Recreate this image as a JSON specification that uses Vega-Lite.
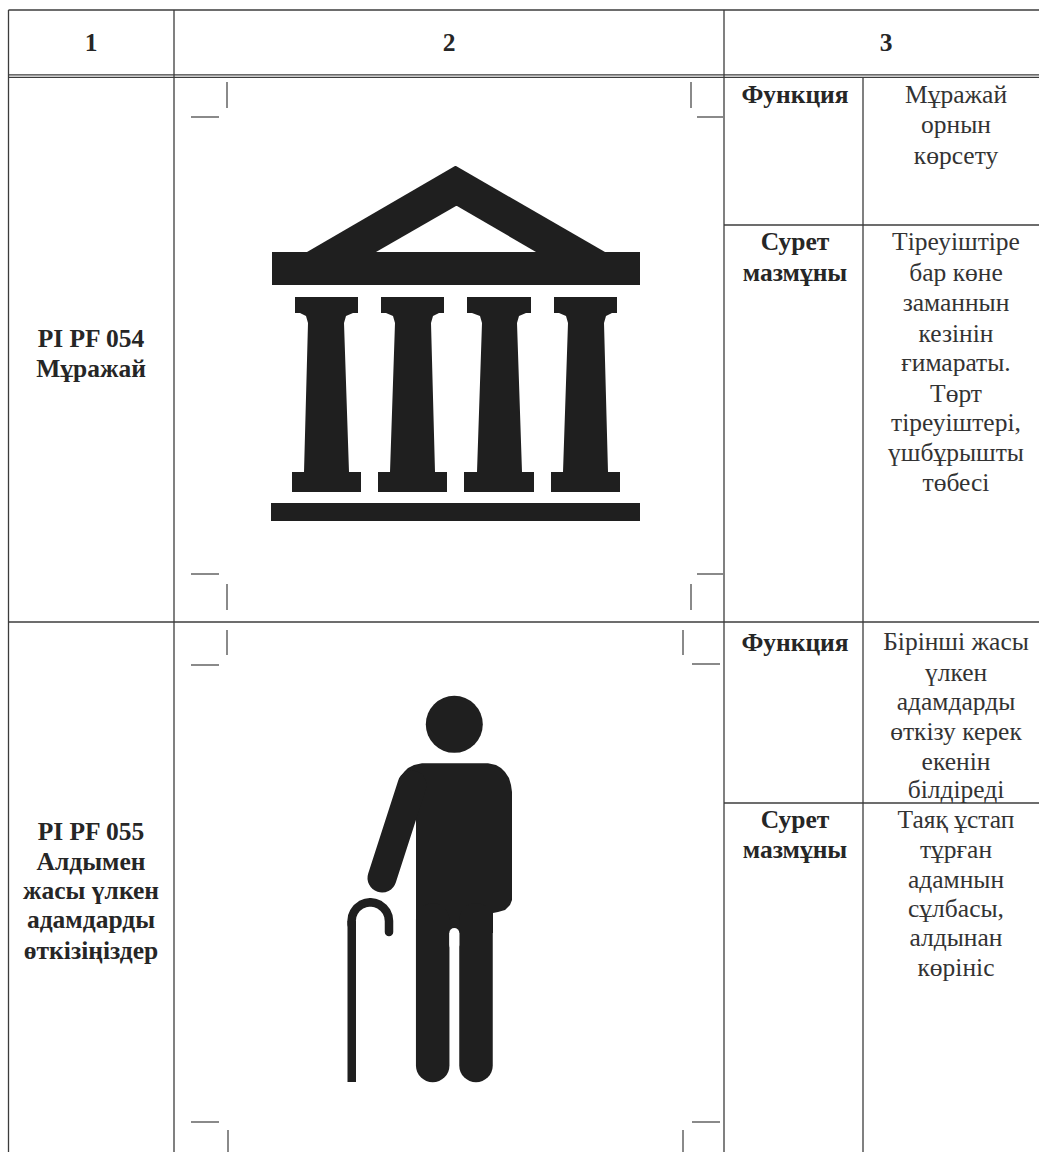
{
"$schema":"https://vega.github.io/schema/vega-lite/v6.json",
"width":1039,"height":1152,"padding":0,"autosize":{"type":"none"},
"background":"#ffffff",
"config":{"view":{"stroke":null}},
"resolve":{"scale":{"color":"independent","strokeWidth":"independent"}},
"encoding":{
 "x":{"field":"x","type":"quantitative","scale":{"domain":[0,1039],"nice":false,"zero":false},"axis":null},
 "y":{"field":"y","type":"quantitative","scale":{"domain":[1152,0],"nice":false,"zero":false},"axis":null}
},
"layer":[
{"data":{"values":[
{"part":"table","x":8.5,"x2":1039,"y":10,"y2":10},
{"part":"table","x":8.5,"x2":1039,"y":74.8,"y2":74.8},
{"part":"table","x":8.5,"x2":1039,"y":77.4,"y2":77.4},
{"part":"table","x":8.5,"x2":1039,"y":622,"y2":622},
{"part":"table","x":724,"x2":1039,"y":225,"y2":225},
{"part":"table","x":724,"x2":1039,"y":803,"y2":803},
{"part":"table","x":8.5,"x2":8.5,"y":10,"y2":1152},
{"part":"table","x":174,"x2":174,"y":10,"y2":1152},
{"part":"table","x":724,"x2":724,"y":10,"y2":1152},
{"part":"table","x":863,"x2":863,"y":77,"y2":1152},
{"part":"crop","x":227,"x2":227,"y":82,"y2":108},
{"part":"crop","x":191,"x2":219,"y":117,"y2":117},
{"part":"crop","x":691,"x2":691,"y":82,"y2":108},
{"part":"crop","x":697,"x2":723,"y":117,"y2":117},
{"part":"crop","x":191,"x2":219,"y":574,"y2":574},
{"part":"crop","x":227,"x2":227,"y":584,"y2":610},
{"part":"crop","x":691,"x2":691,"y":584,"y2":610},
{"part":"crop","x":697,"x2":723,"y":574,"y2":574},
{"part":"crop","x":227,"x2":227,"y":630,"y2":655},
{"part":"crop","x":191,"x2":219,"y":665,"y2":665},
{"part":"crop","x":683,"x2":683,"y":630,"y2":655},
{"part":"crop","x":692,"x2":720,"y":664,"y2":664},
{"part":"crop","x":191,"x2":219,"y":1122,"y2":1122},
{"part":"crop","x":228,"x2":228,"y":1130,"y2":1152},
{"part":"crop","x":683,"x2":683,"y":1130,"y2":1152},
{"part":"crop","x":692,"x2":720,"y":1122,"y2":1122}
]},
"mark":{"type":"rule"},
"encoding":{"x2":{"field":"x2"},"y2":{"field":"y2"},
 "color":{"field":"part","type":"nominal","scale":{"domain":["table","crop"],"range":["#3c3c3c","#2a2a2a"]},"legend":null},
 "strokeWidth":{"field":"part","type":"nominal","scale":{"type":"ordinal","domain":["table","crop"],"range":[1.3,1.1]},"legend":null}}
},
{"data":{"values":[
{"shape":"a_roof","tone":"ink","y":166,"x":455,"x2":456},
{"shape":"a_roof","tone":"ink","y":252,"x":307,"x2":605},
{"shape":"b_beam","tone":"ink","y":252,"x":272,"x2":640},
{"shape":"b_beam","tone":"ink","y":285,"x":272,"x2":640},
{"shape":"c_floor","tone":"ink","y":503,"x":271,"x2":640},
{"shape":"c_floor","tone":"ink","y":521,"x":271,"x2":640},
{"shape":"d_col1","tone":"ink","y":297,"x":295,"x2":358},
{"shape":"d_col1","tone":"ink","y":313,"x":295,"x2":358},
{"shape":"d_col1","tone":"ink","y":313.01,"x":300,"x2":353},
{"shape":"d_col1","tone":"ink","y":316,"x":306,"x2":346},
{"shape":"d_col1","tone":"ink","y":323,"x":308,"x2":344},
{"shape":"d_col1","tone":"ink","y":472,"x":304,"x2":349},
{"shape":"d_col1","tone":"ink","y":472.01,"x":292,"x2":361},
{"shape":"d_col1","tone":"ink","y":492,"x":292,"x2":361},
{"shape":"e_col2","tone":"ink","y":297,"x":381,"x2":444},
{"shape":"e_col2","tone":"ink","y":313,"x":381,"x2":444},
{"shape":"e_col2","tone":"ink","y":313.01,"x":386,"x2":439},
{"shape":"e_col2","tone":"ink","y":316,"x":393,"x2":433},
{"shape":"e_col2","tone":"ink","y":323,"x":395,"x2":431},
{"shape":"e_col2","tone":"ink","y":472,"x":390,"x2":435},
{"shape":"e_col2","tone":"ink","y":472.01,"x":378,"x2":447},
{"shape":"e_col2","tone":"ink","y":492,"x":378,"x2":447},
{"shape":"f_col3","tone":"ink","y":297,"x":467,"x2":531},
{"shape":"f_col3","tone":"ink","y":313,"x":467,"x2":531},
{"shape":"f_col3","tone":"ink","y":313.01,"x":472,"x2":526},
{"shape":"f_col3","tone":"ink","y":316,"x":480,"x2":519},
{"shape":"f_col3","tone":"ink","y":323,"x":482,"x2":517},
{"shape":"f_col3","tone":"ink","y":472,"x":477,"x2":522},
{"shape":"f_col3","tone":"ink","y":472.01,"x":464,"x2":534},
{"shape":"f_col3","tone":"ink","y":492,"x":464,"x2":534},
{"shape":"g_col4","tone":"ink","y":297,"x":554,"x2":617},
{"shape":"g_col4","tone":"ink","y":313,"x":554,"x2":617},
{"shape":"g_col4","tone":"ink","y":313.01,"x":559,"x2":612},
{"shape":"g_col4","tone":"ink","y":316,"x":566,"x2":606},
{"shape":"g_col4","tone":"ink","y":323,"x":568,"x2":604},
{"shape":"g_col4","tone":"ink","y":472,"x":563,"x2":608},
{"shape":"g_col4","tone":"ink","y":472.01,"x":551,"x2":620},
{"shape":"g_col4","tone":"ink","y":492,"x":551,"x2":620},
{"shape":"h_torso","tone":"ink","y":763.3,"x":422,"x2":488},
{"shape":"h_torso","tone":"ink","y":765,"x":414,"x2":496},
{"shape":"h_torso","tone":"ink","y":768,"x":408,"x2":501},
{"shape":"h_torso","tone":"ink","y":772,"x":404,"x2":505},
{"shape":"h_torso","tone":"ink","y":778,"x":400,"x2":509},
{"shape":"h_torso","tone":"ink","y":785,"x":399,"x2":511},
{"shape":"h_torso","tone":"ink","y":792,"x":405,"x2":512},
{"shape":"h_torso","tone":"ink","y":800,"x":416,"x2":512},
{"shape":"h_torso","tone":"ink","y":900,"x":416,"x2":512},
{"shape":"h_torso","tone":"ink","y":905,"x":416,"x2":510},
{"shape":"h_torso","tone":"ink","y":910,"x":416,"x2":505},
{"shape":"h_torso","tone":"ink","y":912,"x":416,"x2":498},
{"shape":"h_torso","tone":"ink","y":913,"x":416,"x2":493},
{"shape":"h_torso","tone":"ink","y":933,"x":416,"x2":493},
{"shape":"i_stem","tone":"ink","y":921,"x":347.5,"x2":356},
{"shape":"i_stem","tone":"ink","y":1082,"x":347.5,"x2":356},
{"shape":"z_tympanum","tone":"paper","y":206,"x":456,"x2":457},
{"shape":"z_tympanum","tone":"paper","y":252,"x":376,"x2":536}
]},
"mark":{"type":"area","orient":"horizontal"},
"encoding":{"x2":{"field":"x2"},
 "detail":{"field":"shape"},
 "color":{"field":"tone","type":"nominal","scale":{"domain":["ink","paper"],"range":["#1f1f1f","#ffffff"]},"legend":null}}
},
{"data":{"values":[
{"part":"arm","i":1,"x":412,"y":785},
{"part":"arm","i":2,"x":382,"y":878},
{"part":"legL","i":1,"x":432.7,"y":920},
{"part":"legL","i":2,"x":432.7,"y":1065.5},
{"part":"legR","i":1,"x":476,"y":920},
{"part":"legR","i":2,"x":476,"y":1065.5},
{"part":"gap","i":1,"x":454.3,"y":933},
{"part":"gap","i":2,"x":454.3,"y":945},
{"part":"cane","i":1,"x":351.7,"y":925},
{"part":"cane","i":2,"x":351.6,"y":921},
{"part":"cane","i":3,"x":352.2,"y":916.2},
{"part":"cane","i":4,"x":354.1,"y":911.7},
{"part":"cane","i":5,"x":357,"y":907.8},
{"part":"cane","i":6,"x":361,"y":904.8},
{"part":"cane","i":7,"x":365.5,"y":903},
{"part":"cane","i":8,"x":370.3,"y":902.3},
{"part":"cane","i":9,"x":375.1,"y":903},
{"part":"cane","i":10,"x":379.6,"y":904.8},
{"part":"cane","i":11,"x":383.5,"y":907.8},
{"part":"cane","i":12,"x":386.5,"y":911.7},
{"part":"cane","i":13,"x":388.4,"y":916.2},
{"part":"cane","i":14,"x":389,"y":921},
{"part":"cane","i":15,"x":389,"y":932}
]},
"mark":{"type":"line","strokeCap":"round","strokeJoin":"round","interpolate":"linear"},
"encoding":{
 "order":{"field":"i"},
 "detail":{"field":"part"},
 "color":{"field":"part","type":"nominal","scale":{"domain":["arm","legL","legR","gap","cane"],"range":["#1f1f1f","#1f1f1f","#1f1f1f","#ffffff","#1f1f1f"]},"legend":null},
 "strokeWidth":{"field":"part","type":"nominal","scale":{"type":"ordinal","domain":["arm","legL","legR","gap","cane"],"range":[29,33.5,33.5,10,8.5]},"legend":null}}
},
{"data":{"values":[{"x":454.3,"y":724.3}]},
"mark":{"type":"point","shape":"circle","filled":true,"size":3249,"color":"#1f1f1f","opacity":1}
},
{"data":{"values":[
{"t":"1","x":91,"y":43},{"t":"2","x":449,"y":43},{"t":"3","x":886,"y":43},
{"t":"PI PF 054","x":91,"y":339},{"t":"Мұражай","x":91,"y":369},
{"t":"PI PF 055","x":91,"y":832},{"t":"Алдымен","x":91,"y":862},{"t":"жасы үлкен","x":91,"y":891},{"t":"адамдарды","x":91,"y":920},{"t":"өткізіңіздер","x":91,"y":951},
{"t":"Функция","x":795,"y":95},{"t":"Сурет","x":795,"y":242},{"t":"мазмұны","x":795,"y":273},
{"t":"Функция","x":795,"y":643},{"t":"Сурет","x":795,"y":820},{"t":"мазмұны","x":795,"y":850}
]},
"mark":{"type":"text","font":"Liberation Serif","fontSize":25.5,"fontWeight":"bold","align":"center","baseline":"middle","color":"#262626"},
"encoding":{"text":{"field":"t"}}
},
{"data":{"values":[
{"t":"Мұражай","x":956,"y":95},{"t":"орнын","x":956,"y":125},{"t":"көрсету","x":956,"y":156},
{"t":"Тіреуіштіре","x":956,"y":242},{"t":"бар көне","x":956,"y":273},{"t":"заманнын","x":956,"y":303},{"t":"кезінін","x":956,"y":334},{"t":"ғимараты.","x":956,"y":363},{"t":"Төрт","x":956,"y":394},{"t":"тіреуіштері,","x":956,"y":423},{"t":"үшбұрышты","x":956,"y":453},{"t":"төбесі","x":956,"y":483},
{"t":"Бірінші жасы","x":956,"y":642},{"t":"үлкен","x":956,"y":673},{"t":"адамдарды","x":956,"y":702},{"t":"өткізу керек","x":956,"y":732},{"t":"екенін","x":956,"y":762},{"t":"білдіреді","x":956,"y":790},
{"t":"Таяқ ұстап","x":956,"y":820},{"t":"тұрған","x":956,"y":850},{"t":"адамнын","x":956,"y":880},{"t":"сұлбасы,","x":956,"y":909},{"t":"алдынан","x":956,"y":938},{"t":"көрініс","x":956,"y":968}
]},
"mark":{"type":"text","font":"Liberation Serif","fontSize":25.5,"align":"center","baseline":"middle","color":"#333333"},
"encoding":{"text":{"field":"t"}}
}
]
}
